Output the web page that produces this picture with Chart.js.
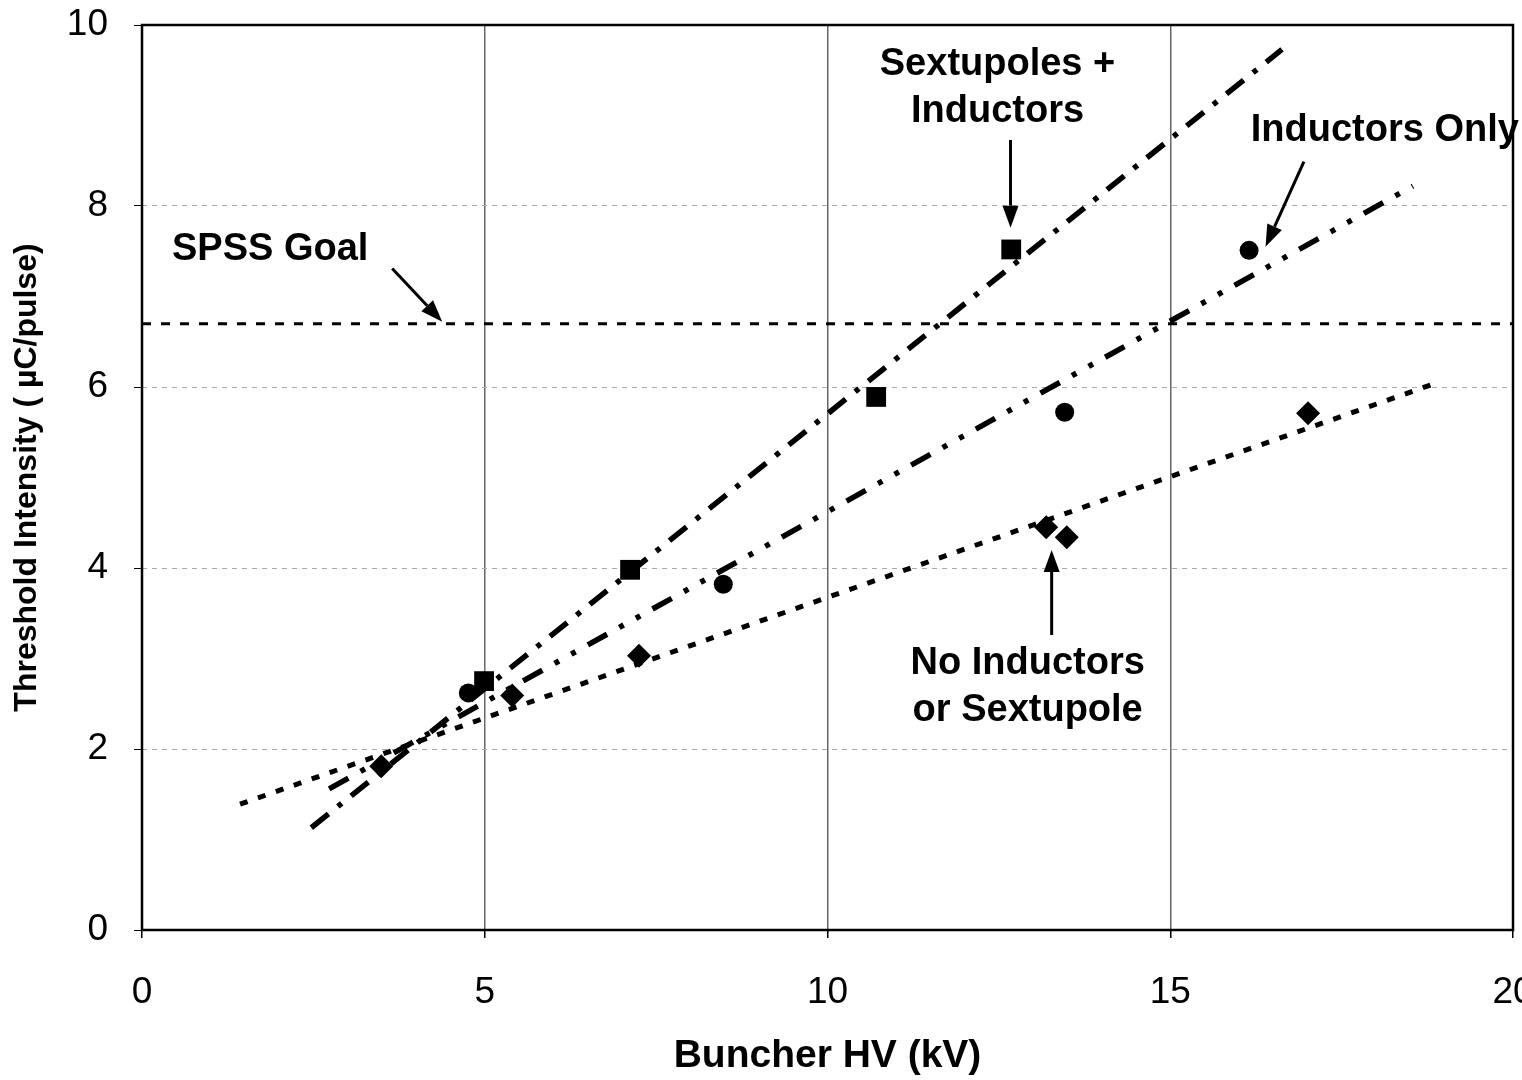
<!DOCTYPE html>
<html>
<head>
<meta charset="utf-8">
<script src="https://cdn.jsdelivr.net/npm/chart.js@4.4.1/dist/chart.umd.min.js"></script>
<style>
  html, body { margin: 0; padding: 0; background: #fff; }
  #wrap { width: 1522px; height: 1080px; }
</style>
</head>
<body>
<div id="wrap"><canvas id="chart" width="1522" height="1080"></canvas></div>
<script>
// measured points (Buncher HV in kV, threshold in uC/pulse)
const sextX = [4.99, 7.12, 10.71, 12.68];
const sextY = [2.75, 3.98, 5.89, 7.52];
const indX = [4.76, 8.48, 13.46, 16.15];
const indY = [2.62, 3.82, 5.72, 7.51];
const noneX = [3.49, 5.40, 7.25, 13.19, 13.49, 17.01];
const noneY = [1.81, 2.59, 3.03, 4.45, 4.34, 5.71];

// trend lines as drawn (end points)
const sextFitX = [2.47, 16.63];
const sextFitY = [1.13, 9.73];
const indFitX = [2.73, 18.54];
const indFitY = [1.56, 8.22];
const noneFitX = [1.43, 18.94];
const noneFitY = [1.39, 6.06];

// SPSS goal level
const goalX = [0, 20];
const goalY = [6.7, 6.7];

const xTicks = [0, 5, 10, 15, 20];
const yTicks = [0, 2, 4, 6, 8, 10];

// callouts, in data units
const noteText = [['SPSS Goal'], ['Sextupoles +', 'Inductors'], ['Inductors Only'], ['No Inductors', 'or Sextupole']];
const noteX = [1.87, 12.48, 18.13, 12.92];
const noteY = [7.52, 9.56, 8.83, 2.94];
const arrowFrom = [[3.65, 7.31], [12.67, 8.73], [16.95, 8.49], [13.27, 3.26]];
const arrowTo = [[4.38, 6.72], [12.67, 7.76], [16.39, 7.55], [13.27, 4.2]];

const FONT = "'Liberation Sans', Arial, Helvetica, sans-serif";

const pts = (xs, ys) => xs.map((x, i) => ({ x: x, y: ys[i] }));

const lineSet = (xs, ys, dash, width) => ({
    type: 'line',
    data: pts(xs, ys),
    showLine: true,
    borderColor: '#000',
    borderWidth: width,
    borderDash: dash,
    borderCapStyle: 'butt',
    pointRadius: 0,
    fill: false,
    order: 2
});

const markSet = (xs, ys, style, r) => ({
    type: 'scatter',
    data: pts(xs, ys),
    pointStyle: style,
    pointRadius: r,
    backgroundColor: '#000',
    borderColor: '#000',
    borderWidth: 0,
    order: 1
});

const frameAndNotes = {
    id: 'frameAndNotes',
    beforeDatasetsDraw(chart) {
        const { ctx, chartArea: a } = chart;
        ctx.save();
        ctx.strokeStyle = '#000';
        ctx.lineWidth = 2.5;
        ctx.strokeRect(a.left, a.top, a.right - a.left, a.bottom - a.top);
        ctx.restore();
    },
    afterDatasetsDraw(chart) {
        const { ctx } = chart;
        const xs = chart.scales.x, ys = chart.scales.y;
        ctx.save();
        ctx.fillStyle = '#000';
        ctx.strokeStyle = '#000';
        ctx.font = 'bold 38px ' + FONT;
        ctx.textAlign = 'center';
        ctx.textBaseline = 'middle';
        noteText.forEach((lines, i) => {
            const cx = xs.getPixelForValue(noteX[i]);
            const cy = ys.getPixelForValue(noteY[i]);
            lines.forEach((t, j) => ctx.fillText(t, cx, cy + j * 47));
        });
        // arrows
        arrowFrom.forEach((f, i) => {
            const x1 = xs.getPixelForValue(f[0]), y1 = ys.getPixelForValue(f[1]);
            const x2 = xs.getPixelForValue(arrowTo[i][0]), y2 = ys.getPixelForValue(arrowTo[i][1]);
            const ang = Math.atan2(y2 - y1, x2 - x1);
            const head = 22, half = 8;
            const bx = x2 - head * Math.cos(ang), by = y2 - head * Math.sin(ang);
            ctx.lineWidth = 3;
            ctx.beginPath();
            ctx.moveTo(x1, y1);
            ctx.lineTo(bx, by);
            ctx.stroke();
            ctx.beginPath();
            ctx.moveTo(x2, y2);
            ctx.lineTo(bx + half * Math.sin(ang), by - half * Math.cos(ang));
            ctx.lineTo(bx - half * Math.sin(ang), by + half * Math.cos(ang));
            ctx.closePath();
            ctx.fill();
        });
        ctx.restore();
    }
};

new Chart(document.getElementById('chart'), {
    data: {
        datasets: [
            lineSet(goalX, goalY, [9, 10], 3),
            lineSet(noneFitX, noneFitY, [8, 11], 5),
            lineSet(indFitX, indFitY, [22, 14, 5, 14, 5, 14], 5.5),
            lineSet(sextFitX, sextFitY, [22, 12, 5, 12], 5.5),
            markSet(sextX, sextY, 'rect', 14),
            markSet(indX, indY, 'circle', 9.5),
            markSet(noneX, noneY, 'rectRot', 12)
        ]
    },
    options: {
        responsive: false,
        animation: false,
        layout: { autoPadding: false, padding: { top: 25, right: 9, left: 0, bottom: 0 } },
        plugins: { legend: { display: false }, tooltip: { enabled: false } },
        scales: {
            x: {
                type: 'linear',
                min: 0,
                max: 20,
                afterBuildTicks: s => { s.ticks = xTicks.map(v => ({ value: v })); },
                afterFit: s => { s.height = 150; s.paddingLeft = 0; s.paddingRight = 0; },
                ticks: {
                    autoSkip: false,
                    maxRotation: 0,
                    padding: 33,
                    color: '#000',
                    font: { family: FONT, size: 37 }
                },
                grid: { color: '#666', lineWidth: 1.5, tickLength: 8, tickColor: '#000' },
                border: { display: false },
                title: {
                    display: true,
                    text: 'Buncher HV (kV)',
                    color: '#000',
                    padding: { top: 0, bottom: 0 },
                    font: { family: FONT, size: 39, weight: 'bold' }
                }
            },
            y: {
                type: 'linear',
                min: 0,
                max: 10,
                afterBuildTicks: s => { s.ticks = yTicks.map(v => ({ value: v })); },
                afterFit: s => { s.width = 142; s.paddingTop = 0; s.paddingBottom = 0; },
                ticks: {
                    padding: 26,
                    color: '#000',
                    font: { family: FONT, size: 37 }
                },
                grid: { color: '#aaa', lineWidth: 1, tickLength: 8, tickColor: '#000' },
                border: { display: false, dash: [5, 5] },
                title: {
                    display: true,
                    text: 'Threshold Intensity ( µC/pulse)',
                    color: '#000',
                    padding: { top: 8, bottom: 0 },
                    font: { family: FONT, size: 32, weight: 'bold' }
                }
            }
        }
    },
    plugins: [frameAndNotes]
});
</script>
</body>
</html>
